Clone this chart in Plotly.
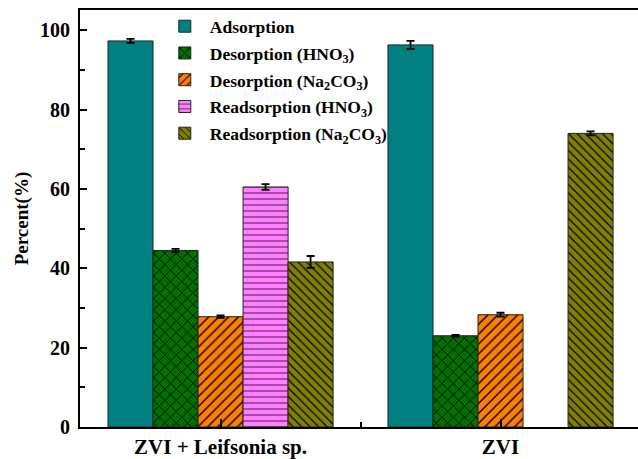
import plotly.graph_objects as go

# Sample groups and their positions on the x axis
groups = ["ZVI + Leifsonia sp.", "ZVI"]
group_pos = [1, 2]

# Series (percent) with standard deviations
series_names = [
    "Adsorption",
    "Desorption (HNO<sub>3</sub>)",
    "Desorption (Na<sub>2</sub>CO<sub>3</sub>)",
    "Readsorption (HNO<sub>3</sub>)",
    "Readsorption (Na<sub>2</sub>CO<sub>3</sub>)",
]
adsorption = [97.3, 96.3]
adsorption_err = [0.5, 1.0]
desorption_hno3 = [44.5, 23.0]
desorption_hno3_err = [0.4, 0.2]
desorption_na2co3 = [27.8, 28.3]
desorption_na2co3_err = [0.3, 0.5]
readsorption_hno3 = [60.5, None]
readsorption_hno3_err = [0.7, None]
readsorption_na2co3 = [41.6, 74.0]
readsorption_na2co3_err = [1.5, 0.5]

values = [adsorption, desorption_hno3, desorption_na2co3, readsorption_hno3, readsorption_na2co3]
errors = [adsorption_err, desorption_hno3_err, desorption_na2co3_err,
          readsorption_hno3_err, readsorption_na2co3_err]

# Fill colour, hatch shape, hatch colour and hatch spacing per series
fills = ["#008080", "#007000", "#FF8000", "#FF80FF", "#808000"]
hatches = ["", "x", "/", "-", "\\"]
hatch_colors = ["#000000", "#000000", "#000000", "#6a2a6a", "#000000"]
hatch_sizes = [8, 8, 7, 6, 6]

FONT = "Liberation Serif"

fig = go.Figure()
for i, (name, v, e, fc, hs, hc, hz) in enumerate(zip(series_names, values, errors, fills,
                                                     hatches, hatch_colors, hatch_sizes)):
    fig.add_trace(go.Bar(
        x=group_pos, y=v, name=name, legendgroup=f"g{i}",
        marker=dict(
            color=fc,
            line=dict(color="#222222", width=1),
            pattern=dict(shape=hs, fgcolor=hc, bgcolor=fc, size=hz,
                         solidity=0.2, fillmode="replace"),
        ),
        error_y=dict(type="data", array=e, visible=True, color="black",
                     thickness=1.8, width=4),
    ))

fig.update_layout(
    width=638, height=459,
    margin=dict(l=80, r=0, t=10, b=32),
    paper_bgcolor="white", plot_bgcolor="white",
    barmode="group", bargap=0.196, bargroupgap=0,
    font=dict(family=FONT, color="black", weight="bold"),
    showlegend=True,
    legend=dict(
        x=0.143, y=1.004, xanchor="left", yanchor="top",
        bgcolor="rgba(0,0,0,0)", borderwidth=0,
        font=dict(family=FONT, size=17.5, color="black", weight="bold"),
        itemwidth=40, tracegroupgap=1,
    ),
)

fig.update_xaxes(
    range=[0.498, 2.491],
    tickmode="array", tickvals=group_pos, ticktext=groups,
    ticks="inside", ticklen=8, tickwidth=1.5, tickcolor="black",
    minor=dict(tickmode="array", tickvals=[1.5], ticks="inside",
               ticklen=5, tickwidth=1.5, tickcolor="black"),
    tickfont=dict(family=FONT, size=21, color="black", weight="bold"),
    showline=True, linecolor="black", linewidth=2, mirror=True,
    showgrid=False, zeroline=False,
)

fig.update_yaxes(
    range=[0, 105.1],
    tickmode="linear", tick0=0, dtick=20,
    ticks="inside", ticklen=7, tickwidth=1.5, tickcolor="black",
    minor=dict(dtick=10, ticks="inside", ticklen=5, tickwidth=1.5,
               tickcolor="black"),
    tickfont=dict(family=FONT, size=20, color="black", weight="bold"),
    ticklabelstandoff=4,
    title=dict(text="Percent(%)", standoff=6,
               font=dict(family=FONT, size=19, color="black", weight="bold")),
    showline=True, linecolor="black", linewidth=2, mirror=False,
    showgrid=False, zeroline=False,
)

fig.write_html("out.html")
